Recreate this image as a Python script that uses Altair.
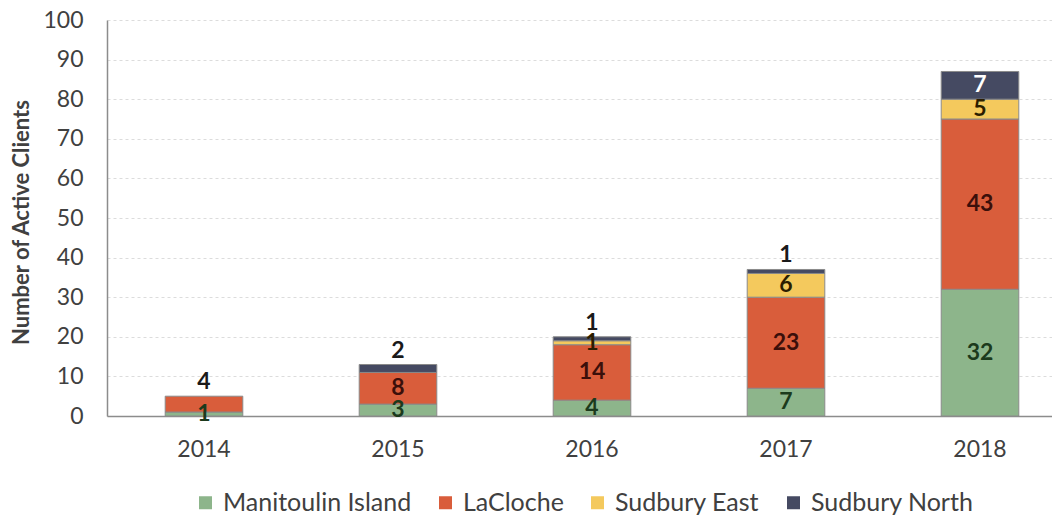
import altair as alt
import pandas as pd

# Active clients per year, by region
years = ["2014", "2015", "2016", "2017", "2018"]
regions = ["Manitoulin Island", "LaCloche", "Sudbury East", "Sudbury North"]
manitoulin = [1, 3, 4, 7, 32]
lacloche = [4, 8, 14, 23, 43]
sudbury_east = [0, 0, 1, 6, 5]
sudbury_north = [0, 2, 1, 1, 7]
y_ticks = [0, 10, 20, 30, 40, 50, 60, 70, 80, 90, 100]

fill_colors = ["#8db58b", "#d95d3b", "#f4c95d", "#454a62"]
text_colors = ["#1c3a1c", "#3b0f0a", "#2b1d00", "#ffffff"]

FONT = "Lato"

series = [manitoulin, lacloche, sudbury_east, sudbury_north]
rows = []
for i, yr in enumerate(years):
    base = 0
    top_k = max(k for k in range(len(regions)) if series[k][i] > 0)
    for k, name in enumerate(regions):
        v = series[k][i]
        rows.append(
            dict(
                year=yr,
                region=name,
                rank=k,
                clients=v,
                top=base + v,
                mid=base + v / 2,
                # small top segments get their value written above the bar
                place="above" if (k == top_k and v <= 4) else "inside",
                tcolor=text_colors[k],
            )
        )
        base += v
df = pd.DataFrame(rows)

x_scale = alt.Scale(range=[0, 970], paddingInner=0.6, paddingOuter=0.3)
y_scale = alt.Scale(domain=[0, 100], nice=False)

x_axis = alt.Axis(
    title=None,
    labelAngle=0,
    ticks=False,
    labelPadding=22,
    labelFont=FONT,
    labelFontSize=23,
    labelColor="#404040",
    domainColor="#8c8c8c",
    domainWidth=1.5,
    grid=False,
)

y_axis = alt.Axis(
    title="Number of Active Clients",
    values=y_ticks,
    labelOverlap=False,
    ticks=False,
    labelPadding=24,
    labelFont=FONT,
    labelFontSize=23,
    labelColor="#404040",
    domainColor="#8c8c8c",
    domainWidth=1.5,
    grid=True,
    gridColor="#dcdcdc",
    gridDash=[3, 3],
    titleFont=FONT,
    titleFontSize=22,
    titleFontWeight="bold",
    titleColor="#404040",
    titleX=-86,
    titleY=202,
    titleAlign="center",
    titleBaseline="middle",
)

bars = (
    alt.Chart(df)
    .transform_filter("datum.clients > 0")
    .mark_bar(stroke="#8a8a8a", strokeWidth=1)
    .encode(
        x=alt.X("year:N", sort=years, scale=x_scale, axis=x_axis),
        y=alt.Y("clients:Q", stack="zero", scale=y_scale, axis=y_axis),
        order=alt.Order("rank:Q"),
        color=alt.Color(
            "region:N",
            scale=alt.Scale(domain=regions, range=fill_colors),
            legend=alt.Legend(
                title=None,
                orient="none",
                legendX=86,
                legendY=470,
                direction="horizontal",
                symbolType="square",
                symbolSize=169,
                symbolStrokeWidth=0,
                labelFont=FONT,
                labelFontSize=25,
                labelColor="#404040",
                labelLimit=400,
                labelOffset=5,
                columnPadding=21,
            ),
        ),
    )
)

inside = (
    alt.Chart(df)
    .transform_filter("datum.clients > 0 && datum.place == 'inside'")
    .mark_text(font=FONT, fontSize=23, fontWeight="bold", baseline="middle")
    .encode(
        x=alt.X("year:N", sort=years, scale=x_scale, axis=x_axis),
        y=alt.Y("mid:Q", scale=y_scale, axis=y_axis),
        text=alt.Text("clients:Q"),
        color=alt.Color("tcolor:N", scale=None),
    )
)

above = (
    alt.Chart(df)
    .transform_filter("datum.clients > 0 && datum.place == 'above'")
    .mark_text(
        font=FONT, fontSize=23, fontWeight="bold", baseline="alphabetic",
        dy=-7, color="#1a1a1a",
    )
    .encode(
        x=alt.X("year:N", sort=years, scale=x_scale, axis=x_axis),
        y=alt.Y("top:Q", scale=y_scale, axis=y_axis),
        text=alt.Text("clients:Q"),
    )
)

chart = (
    alt.layer(bars, inside, above)
    .properties(
        width=945,
        height=396,
        autosize=alt.AutoSizeParams(type="none"),
        padding={"left": 107, "top": 20, "right": 0, "bottom": 99},
        background="white",
    )
    .configure_view(stroke=None)
)

chart.save("out.html", embed_options={"renderer": "svg", "actions": False})
